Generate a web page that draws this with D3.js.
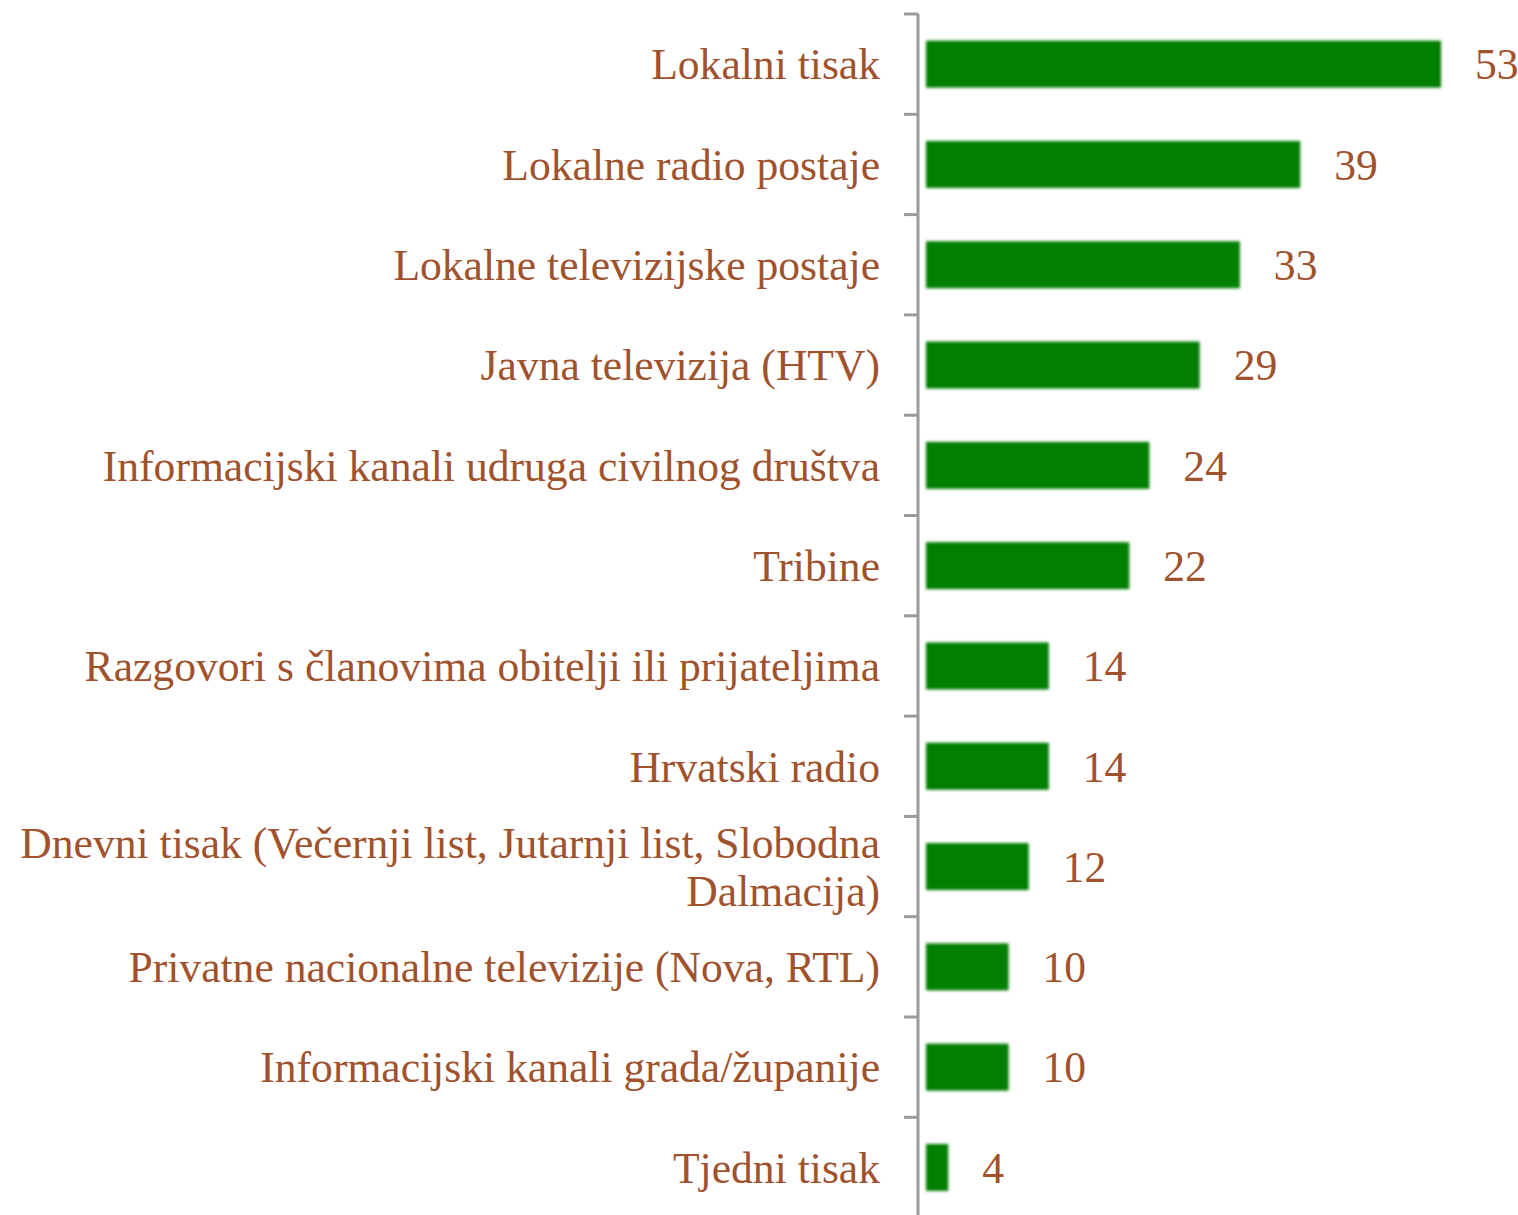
<!DOCTYPE html>
<html>
<head>
<meta charset="utf-8">
<script src="https://cdn.jsdelivr.net/npm/d3@7"></script>
<style>
  html, body { margin: 0; padding: 0; background: #ffffff; }
  svg { display: block; }
</style>
</head>
<body>
<svg id="chart" width="1518" height="1215"></svg>
<script>
// Izvori informiranja (%)
const categories = [
  "Lokalni tisak",
  "Lokalne radio postaje",
  "Lokalne televizijske postaje",
  "Javna televizija (HTV)",
  "Informacijski kanali udruga civilnog društva",
  "Tribine",
  "Razgovori s članovima obitelji ili prijateljima",
  "Hrvatski radio",
  "Dnevni tisak (Večernji list, Jutarnji list, Slobodna|Dalmacija)",
  "Privatne nacionalne televizije (Nova, RTL)",
  "Informacijski kanali grada/županije",
  "Tjedni tisak"
];
const values = [53, 39, 33, 29, 24, 22, 14, 14, 12, 10, 10, 4];

const svg = d3.select("#chart");
const textColor = "#a0522d";
const barColor = "#007f00";
const axisColor = "#9a9a9a";
const fontFamily = "'Liberation Serif', 'Times New Roman', serif";
const fontSize = 43.6;

const axisX = 918;
const barStart = 926;
const plotTop = 14;
const step = 100.3;

const y = d3.scaleBand()
  .domain(categories)
  .range([plotTop, plotTop + step * categories.length])
  .padding(0);

const x = d3.scaleLinear().domain([0, 53]).range([908, 1441]);

const barH = 47;

const defs = svg.append("defs");
defs.append("filter")
  .attr("id", "soft")
  .attr("x", "-10%").attr("y", "-20%")
  .attr("width", "120%").attr("height", "140%")
  .append("feGaussianBlur").attr("stdDeviation", 1.6);

// vertical axis line
svg.append("line")
  .attr("x1", axisX).attr("x2", axisX)
  .attr("y1", plotTop).attr("y2", 1215)
  .attr("stroke", axisColor).attr("stroke-width", 3);

// tick marks at band boundaries
const tickYs = categories.map(c => y(c));
svg.selectAll("line.tick")
  .data(tickYs)
  .join("line")
  .attr("class", "tick")
  .attr("x1", 904).attr("x2", axisX)
  .attr("y1", d => d).attr("y2", d => d)
  .attr("stroke", axisColor).attr("stroke-width", 3);

// bars
svg.append("g").attr("filter", "url(#soft)")
  .selectAll("rect")
  .data(values)
  .join("rect")
  .attr("x", barStart)
  .attr("y", (d, i) => y(categories[i]) + (y.bandwidth() - barH) / 2)
  .attr("width", d => x(d) - barStart)
  .attr("height", barH)
  .attr("fill", barColor);

// value labels
svg.append("g")
  .selectAll("text")
  .data(values)
  .join("text")
  .attr("x", d => x(d) + 34)
  .attr("y", (d, i) => y(categories[i]) + y.bandwidth() / 2)
  .attr("dy", "0.35em")
  .attr("fill", textColor)
  .attr("font-family", fontFamily)
  .attr("font-size", fontSize)
  .text(d => d);

// category labels
const labels = svg.append("g")
  .selectAll("text")
  .data(categories)
  .join("text")
  .attr("x", 880)
  .attr("y", d => y(d) + y.bandwidth() / 2)
  .attr("text-anchor", "end")
  .attr("fill", textColor)
  .attr("font-family", fontFamily)
  .attr("font-size", fontSize);

labels.each(function(d) {
  const lines = d.split("|");
  const t = d3.select(this);
  const lh = 48;
  const start = -(lines.length - 1) * lh / 2;
  lines.forEach((ln, k) => {
    t.append("tspan")
      .attr("x", 880)
      .attr("y", y(d) + y.bandwidth() / 2 + start + k * lh)
      .attr("dy", "0.35em")
      .text(ln);
  });
});
</script>
</body>
</html>
